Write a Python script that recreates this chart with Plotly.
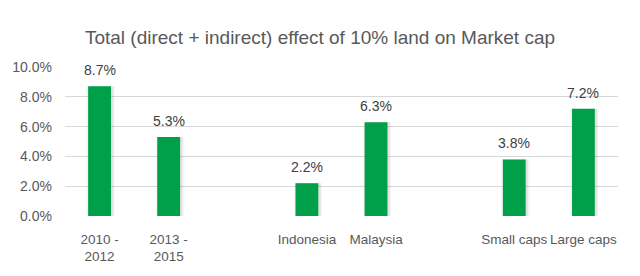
import plotly.graph_objects as go

positions = [0, 1, 3, 4, 6, 7]
labels = ["2010 -<br>2012", "2013 -<br>2015", "Indonesia", "Malaysia", "Small caps", "Large caps"]
values = [8.7, 5.3, 2.2, 6.3, 3.8, 7.2]
y_ticks = [0, 2, 4, 6, 8, 10]
y_ticktext = ["0.0%", "2.0%", "4.0%", "6.0%", "8.0%", "10.0%"]

FONT = "Liberation Sans, Arial, sans-serif"
GREEN = "#00A04A"

fig = go.Figure()
# soft shadow
for w, op in [(0.41, 0.04), (0.37, 0.07)]:
    fig.add_trace(go.Bar(x=positions, y=values, width=w, offset=-w / 2 + 0.015,
                         marker=dict(color=f"rgba(0,0,0,{op})", line=dict(width=0)),
                         hoverinfo="skip", showlegend=False))
fig.add_trace(go.Bar(x=positions, y=values, width=0.33,
                     marker=dict(color=GREEN, line=dict(width=0)),
                     showlegend=False, cliponaxis=False))

for x, v in zip(positions, values):
    fig.add_annotation(x=x, y=v, text=f"{v:.1f}%", showarrow=False,
                       yanchor="bottom", yshift=6,
                       font=dict(family=FONT, size=14, color="#404040"))

fig.update_layout(
    width=640, height=276,
    margin=dict(l=65, r=22, t=67, b=60),
    paper_bgcolor="white", plot_bgcolor="white",
    barmode="overlay",
    title=dict(text="Total (direct + indirect) effect of 10% land on Market cap",
               x=0.5, xanchor="center", y=1 - 37 / 276, yanchor="middle",
               font=dict(family=FONT, size=19, color="#595959")),
    xaxis=dict(range=[-0.5, 7.5], tickvals=positions, ticktext=labels,
               showgrid=False, zeroline=False, showline=False, ticks="",
               tickangle=0, automargin=False,
               ticklabelstandoff=13,
               tickfont=dict(family=FONT, size=13.5, color="#595959")),
    yaxis=dict(range=[0, 10], tickvals=y_ticks, ticktext=y_ticktext,
               showgrid=True, gridcolor="#D9D9D9", gridwidth=1,
               zeroline=False, showline=False, ticks="", automargin=False,
               ticklabelstandoff=12,
               tickfont=dict(family=FONT, size=14, color="#595959")),
)

fig.write_html("out.html")
